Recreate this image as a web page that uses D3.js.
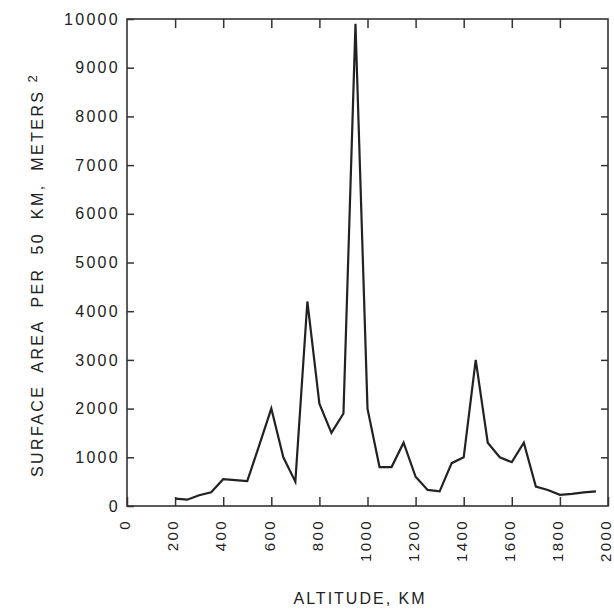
<!DOCTYPE html>
<html>
<head>
<meta charset="utf-8">
<script src="https://cdn.jsdelivr.net/npm/d3@7"></script>
<style>
  body { margin: 0; background: #fff; }
  text { font-family: "Liberation Sans", Arial, sans-serif; fill: #222; }
</style>
</head>
<body>
<div id="chart"></div>
<script>
// altitude bins (km) and surface area per 50 km bin (m^2)
const altitudes = [200, 250, 300, 350, 400, 450, 500, 550, 600, 650, 700, 750,
    800, 850, 900, 950, 1000, 1050, 1100, 1150, 1200, 1250, 1300, 1350,
    1400, 1450, 1500, 1550, 1600, 1650, 1700, 1750, 1800, 1850, 1900, 1950];
const areas = [150, 130, 220, 280, 550, 530, 510, 1250, 2000, 1000, 500, 4200,
    2100, 1500, 1900, 9900, 2000, 800, 800, 1300, 600, 330, 300, 880,
    1000, 3000, 1300, 1000, 900, 1300, 400, 330, 230, 250, 280, 300];

const xTicks = [0, 200, 400, 600, 800, 1000, 1200, 1400, 1600, 1800, 2000];
const yTicks = [0, 1000, 2000, 3000, 4000, 5000, 6000, 7000, 8000, 9000, 10000];

const svgWidth = 614, svgHeight = 609;
const plotLeft = 127, plotRight = 608, plotTop = 19, plotBottom = 506;

const svg = d3.select("#chart").append("svg")
    .attr("width", svgWidth)
    .attr("height", svgHeight);

const x = d3.scaleLinear().domain([0, 2000]).range([plotLeft, plotRight]);
const y = d3.scaleLinear().domain([0, 10000]).range([plotBottom, plotTop]);

// frame
svg.append("rect")
    .attr("x", plotLeft).attr("y", plotTop)
    .attr("width", plotRight - plotLeft).attr("height", plotBottom - plotTop)
    .attr("fill", "none")
    .attr("stroke", "#333")
    .attr("stroke-width", 1.6);

// bottom axis with rotated labels
const gx = svg.append("g")
    .attr("transform", `translate(0,${plotBottom})`)
    .call(d3.axisBottom(x).tickValues(xTicks).tickSize(-9).tickSizeOuter(0).tickFormat(d3.format("d")));
gx.selectAll("text")
    .attr("transform", "rotate(-90)")
    .attr("x", -13)
    .attr("y", 0)
    .attr("dy", "0.18em")
    .style("text-anchor", "end")
    .style("font-size", "15px")
    .style("letter-spacing", "2.4px");

// left axis
const gy = svg.append("g")
    .attr("transform", `translate(${plotLeft},0)`)
    .call(d3.axisLeft(y).tickValues(yTicks).tickSize(-7).tickPadding(7).tickSizeOuter(0).tickFormat(d3.format("d")));
gy.selectAll("text")
    .style("font-size", "16px")
    .style("letter-spacing", "2.3px");

// top and right ticks, no labels
svg.append("g")
    .attr("transform", `translate(0,${plotTop})`)
    .call(d3.axisTop(x).tickValues(xTicks.slice(1, -1)).tickSize(-9).tickSizeOuter(0).tickFormat(""));
svg.append("g")
    .attr("transform", `translate(${plotRight},0)`)
    .call(d3.axisRight(y).tickValues(yTicks.slice(1, -1)).tickSize(-7).tickSizeOuter(0).tickFormat(""));

svg.selectAll(".domain").remove();
svg.selectAll(".tick line").attr("stroke", "#333").attr("stroke-width", 1.5);

// data line
const line = d3.line()
    .x((d, i) => x(altitudes[i]))
    .y(d => y(d));

svg.append("path")
    .datum(areas)
    .attr("fill", "none")
    .attr("stroke", "#222")
    .attr("stroke-width", 2.2)
    .attr("stroke-linejoin", "miter")
    .attr("d", line);

// axis titles
svg.append("text")
    .attr("x", 360)
    .attr("y", 604)
    .attr("text-anchor", "middle")
    .style("font-size", "16px")
    .style("letter-spacing", "2px")
    .text("ALTITUDE, KM");

const yt = svg.append("text")
    .attr("transform", "translate(43,477) rotate(-90)")
    .attr("text-anchor", "start")
    .style("font-size", "16px")
    .style("letter-spacing", "2.4px")
    .style("word-spacing", "6px");
yt.append("tspan").text("SURFACE AREA PER 50 KM, METERS");
yt.append("tspan")
    .attr("dx", 7)
    .attr("dy", -6)
    .style("font-size", "13px")
    .text("2");
</script>
</body>
</html>
